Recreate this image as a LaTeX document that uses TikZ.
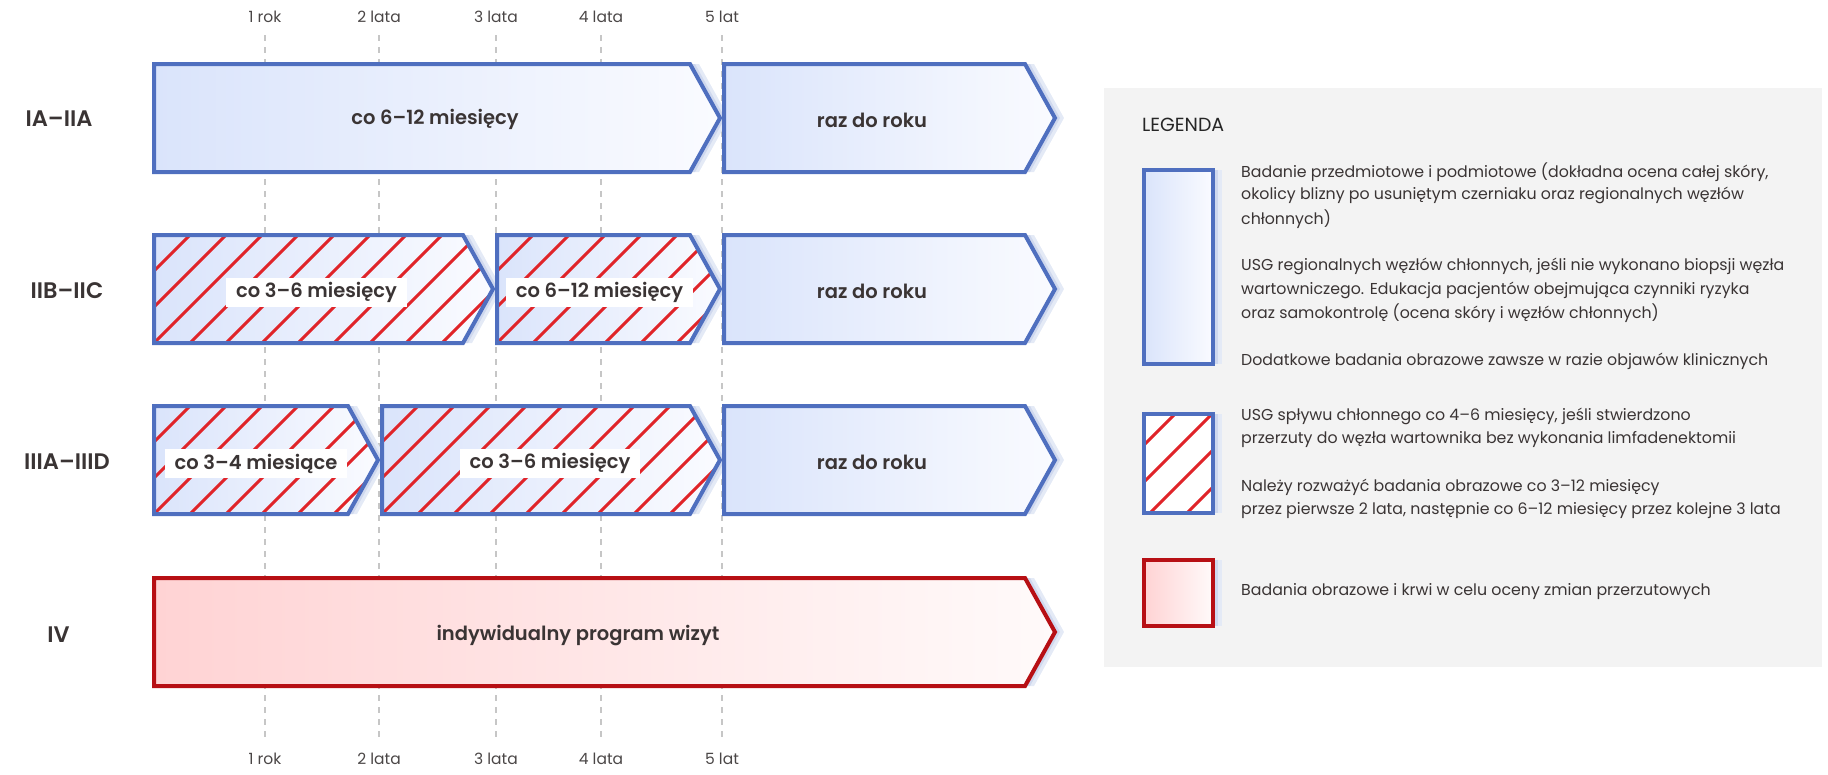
\documentclass[tikz,border=0pt]{standalone}
\usepackage{fontspec}
\setmainfont{Poppins}[BoldFont={Poppins SemiBold}]
\definecolor{bB}{HTML}{4F6FBF}
\definecolor{bL}{HTML}{DAE4FB}
\definecolor{bR}{HTML}{FAFBFF}
\definecolor{rB}{HTML}{B70F14}
\definecolor{rL}{HTML}{FFD3D4}
\definecolor{rR}{HTML}{FFFAFA}
\definecolor{hatchR}{HTML}{E02429}
\definecolor{shadowA}{HTML}{CFD8EE}
\definecolor{shadowB}{HTML}{E4EAF6}
\definecolor{txt}{HTML}{3A3434}
\definecolor{tickc}{HTML}{4A4646}
\definecolor{dashc}{HTML}{C6C6C6}
\definecolor{legbg}{HTML}{F3F3F3}
\tikzset{
 borderline/.style={line width=4pt, line join=miter},
 hatchline/.style={draw=hatchR, line width=3pt},
 boxlabel/.style={font=\fontsize{19.5}{22}\selectfont\bfseries, text=txt},
 whitelabel/.style={boxlabel, fill=white, inner xsep=10pt, minimum height=29pt},
 rowlabel/.style={font=\fontsize{22.5}{26}\selectfont\bfseries, text=txt},
 ticklabel/.style={font=\fontsize{15.5}{18}\selectfont, text=tickc},
 gridline/.style={draw=dashc, line width=1.2pt, dash pattern=on 6pt off 6pt},
 legtext/.style={font=\fontsize{15.8}{19}\selectfont, text=txt, anchor=west, inner sep=0pt},
 legtitle/.style={font=\fontsize{19}{22}\selectfont, text=black!85, anchor=west, inner sep=0pt},
}
% #1 colour prefix (b/r), #2 x0, #3 xr, #4 ytop, #5 ybot, #6 hatch 0/1
\newcommand\stagebox[6]{%
  \pgfmathsetmacro\ymid{(#4+#5)/2}%
  \fill[shadowB] ({#2+9},#4) -- ({#3+9},#4) -- ({#3+39},\ymid) -- ({#3+9},#5) -- ({#2+9},#5) -- cycle;
  \fill[shadowA] ({#2+5},#4) -- ({#3+5},#4) -- ({#3+35},\ymid) -- ({#3+5},#5) -- ({#2+5},#5) -- cycle;
  \shade[left color=#1L, right color=#1R] (#2,#4) -- (#3,#4) -- ({#3+30},\ymid) -- (#3,#5) -- (#2,#5) -- cycle;
  \ifnum#6=1
  \begin{scope}
    \clip (#2,#4) -- (#3,#4) -- ({#3+30},\ymid) -- (#3,#5) -- (#2,#5) -- cycle;
    \pgfmathsetmacro\czero{#2+#5}%
    \foreach \k in {-4,...,14}{%
      \draw[hatchline] ({\czero+36*\k-#5},#5) -- ({\czero+36*\k-#4},#4);
    }
  \end{scope}
  \fi
  \draw[borderline, draw=#1B] (#2,#4) -- (#3,#4) -- ({#3+30},\ymid) -- (#3,#5) -- (#2,#5) -- cycle;
}
\begin{document}
\begin{tikzpicture}[x=1pt,y=-1pt]
\useasboundingbox (0,0) rectangle (1828,774);
% legend background
\fill[legbg] (1104,88) rectangle (1822,667);
% grid lines and year labels
\foreach \gx/\lab [count=\i] in {265/1 rok,379/2 lata,496/3 lata,601/4 lata,722/5 lat}{
  \coordinate (gt\i) at (\gx,35);
  \coordinate (gb\i) at (\gx,738);
  \draw[gridline] (gt\i) -- (gb\i);
  \node[ticklabel] (yt\i) at (\gx,16.5) {\lab};
  \node[ticklabel] (yb\i) at (\gx,758.5) {\lab};
}
% row 1
\stagebox{b}{154}{690}{64}{172}{0}
\stagebox{b}{724}{1025}{64}{172}{0}
% row 2
\stagebox{b}{154}{463}{235}{343}{1}
\stagebox{b}{497}{690}{235}{343}{1}
\stagebox{b}{724}{1025}{235}{343}{0}
% row 3
\stagebox{b}{154}{348}{406}{514}{1}
\stagebox{b}{382}{690}{406}{514}{1}
\stagebox{b}{724}{1025}{406}{514}{0}
% row 4
\stagebox{r}{154}{1025}{578}{686}{0}
% row labels
\node[rowlabel] (r1) at (59,119) {IA–IIA};
\node[rowlabel] (r2) at (67,291) {IIB–IIC};
\node[rowlabel] (r3) at (67,462) {IIIA–IIID};
\node[rowlabel] (r4) at (58.5,635) {IV};
% box labels
\node[boxlabel] (l11) at (435,119) {co 6–12 miesięcy};
\node[boxlabel] (l12) at (872,120) {raz do roku};
\node[whitelabel] (l21) at (316.5,292.5) {co 3–6 miesięcy};
\node[whitelabel] (l22) at (599.5,292.5) {co 6–12 miesięcy};
\node[boxlabel] (l23) at (872,291) {raz do roku};
\node[whitelabel] (l31) at (256,463.5) {co 3–4 miesiące};
\node[whitelabel] (l32) at (550,463.5) {co 3–6 miesięcy};
\node[boxlabel] (l33) at (872,462) {raz do roku};
\node[boxlabel] (l41) at (578,636) {indywidualny program wizyt};
% legend
\node[legtitle] (lt) at (1142,125) {LEGENDA};
% legend box 1
\fill[shadowB] (1153,170) rectangle (1222,364);
\fill[shadowA] (1149,170) rectangle (1218,364);
\shade[left color=bL, right color=bR] (1144,170) rectangle (1213,364);
\draw[borderline, draw=bB] (1144,170) rectangle (1213,364);
% legend box 2
\fill[shadowB] (1153,414) rectangle (1222,513);
\fill[shadowA] (1149,414) rectangle (1218,513);
\fill[white] (1144,414) rectangle (1213,513);
\begin{scope}
  \clip (1144,414) rectangle (1213,513);
  \foreach \k in {0,...,7}{%
    \draw[hatchline] ({1515+37*\k-513},513) -- ({1515+37*\k-414},414);
  }
\end{scope}
\draw[borderline, draw=bB] (1144,414) rectangle (1213,513);
% legend box 3
\fill[shadowB] (1153,560) rectangle (1222,626);
\fill[shadowA] (1149,560) rectangle (1218,626);
\shade[left color=rL, right color=rR] (1144,560) rectangle (1213,626);
\draw[borderline, draw=rB] (1144,560) rectangle (1213,626);
% legend texts
\node[legtext] (t1) at (1241,171.7) {Badanie przedmiotowe i podmiotowe (dokładna ocena całej skóry,};
\node[legtext] (t2) at (1241,195.7) {okolicy blizny po usuniętym czerniaku oraz regionalnych węzłów};
\node[legtext] (t3) at (1241,219.3) {chłonnych)};
\node[legtext] (t4) at (1241,266.7) {USG regionalnych węzłów chłonnych, jeśli nie wykonano biopsji węzła};
\node[legtext] (t5) at (1241,290) {wartowniczego. Edukacja pacjentów obejmująca czynniki ryzyka};
\node[legtext] (t6) at (1241,313) {oraz samokontrolę (ocena skóry i węzłów chłonnych)};
\node[legtext] (t7) at (1241,361) {Dodatkowe badania obrazowe zawsze w razie objawów klinicznych};
\node[legtext] (t8) at (1241,416) {USG spływu chłonnego co 4–6 miesięcy, jeśli stwierdzono};
\node[legtext] (t9) at (1241,440) {przerzuty do węzła wartownika bez wykonania limfadenektomii};
\node[legtext] (t10) at (1241,487) {Należy rozważyć badania obrazowe co 3–12 miesięcy};
\node[legtext] (t11) at (1241,511) {przez pierwsze 2 lata, następnie co 6–12 miesięcy przez kolejne 3 lata};
\node[legtext] (t12) at (1241,592) {Badania obrazowe i krwi w celu oceny zmian przerzutowych};
\end{tikzpicture}
\end{document}
